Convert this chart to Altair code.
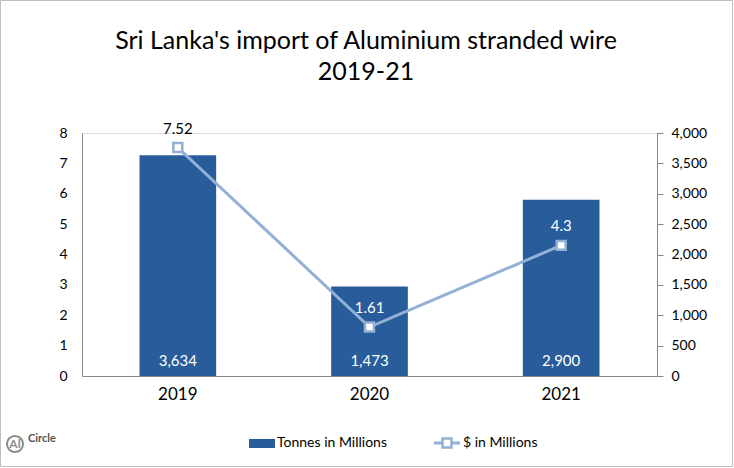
import altair as alt
import pandas as pd

years = ["2019", "2020", "2021"]
tonnes = [3634, 1473, 2900]
dollars = [7.52, 1.61, 4.3]
dollar_label_colors = ["#000000", "#FFFFFF", "#FFFFFF"]
title_lines = ["Sri Lanka's import of Aluminium stranded wire", "2019-21"]

BAR = "#285C9A"
LINE = "#93B0D5"
FONT = "Lato"

df = pd.DataFrame({
    "year": years,
    "tonnes": tonnes,
    "dollars": dollars,
    "dcol": dollar_label_colors,
    "zero": [0, 0, 0],
})

W, H = 575, 243
PL, PT = 82, 133

xscale = alt.Scale(paddingInner=0.6, paddingOuter=0.3)
xaxis = alt.Axis(title=None, labelAngle=0, labelFontSize=17, labelFont=FONT,
                 labelColor="#000000", ticks=False, domainColor="#868686",
                 labelPadding=10)

def X():
    return alt.X("year:N", sort=years, scale=xscale, axis=xaxis)

rscale = alt.Scale(domain=[0, 4000])
raxis = alt.Axis(title=None, orient="right", values=list(range(0, 4001, 500)),
                 labelExpr="format(datum.value, ',')", grid=False, tickSize=6,
                 tickColor="#868686", domainColor="#868686", labelFontSize=14,
                 labelFont=FONT, labelColor="#000000", labelPadding=8)

lscale = alt.Scale(domain=[0, 8])
laxis = alt.Axis(title=None, orient="left", values=list(range(0, 9)), format="d",
                 grid=False, ticks=False, domainColor="#868686",
                 labelFontSize=14, labelFont=FONT, labelColor="#000000",
                 labelPadding=15)

bars = alt.Chart(df).mark_bar(color=BAR).encode(
    x=X(), y=alt.Y("tonnes:Q", scale=rscale, axis=raxis))
bar_text = alt.Chart(df).mark_text(color="#FFFFFF", fontSize=15, font=FONT, dy=-15,
                                   baseline="middle").encode(
    x=X(),
    y=alt.Y("zero:Q", scale=rscale, axis=raxis),
    text=alt.Text("tonnes:Q", format=","),
)
bar_layer = alt.layer(bars, bar_text)

line = alt.Chart(df).mark_line(color=LINE, strokeWidth=3).encode(
    x=X(), y=alt.Y("dollars:Q", scale=lscale, axis=laxis))
pts = alt.Chart(df).mark_point(shape="square", filled=True, fill="#FFFFFF",
                               stroke=LINE, strokeWidth=2.5, size=80, opacity=1).encode(
    x=X(), y=alt.Y("dollars:Q", scale=lscale, axis=laxis))
line_text = alt.Chart(df).mark_text(fontSize=15, font=FONT, dy=-19, baseline="middle").encode(
    x=X(), y=alt.Y("dollars:Q", scale=lscale, axis=laxis),
    text=alt.Text("dollars:Q"),
    color=alt.Color("dcol:N", scale=None),
)
line_layer = alt.layer(line, pts, line_text)

one = pd.DataFrame({"a": [0]})
# title, legend and decorations (pixel positions relative to plot area)
t1 = alt.Chart(one).mark_text(fontSize=25, font=FONT, color="#000000",
                              baseline="middle", align="center").encode(
    x=alt.value(366 - PL), y=alt.value(41 - PT), text=alt.value(title_lines[0]))
t2 = alt.Chart(one).mark_text(fontSize=25, font=FONT, color="#000000",
                              baseline="middle", align="center").encode(
    x=alt.value(366 - PL), y=alt.value(72 - PT), text=alt.value(title_lines[1]))
leg_bar = alt.Chart(one).mark_rect(color=BAR).encode(
    x=alt.value(249 - PL), x2=alt.value(275 - PL),
    y=alt.value(439 - PT), y2=alt.value(448 - PT))
leg_bar_t = alt.Chart(one).mark_text(align="left", baseline="middle", fontSize=14,
                                     font=FONT, color="#000000").encode(
    x=alt.value(277 - PL), y=alt.value(443 - PT), text=alt.value("Tonnes in Millions"))
leg_line = alt.Chart(one).mark_rule(color=LINE, strokeWidth=3).encode(
    x=alt.value(434 - PL), x2=alt.value(460 - PL), y=alt.value(443 - PT))
leg_pt = alt.Chart(one).mark_point(shape="square", filled=True, fill="#FFFFFF",
                                   stroke=LINE, strokeWidth=2.5, size=80, opacity=1).encode(
    x=alt.value(447 - PL), y=alt.value(443 - PT))
leg_line_t = alt.Chart(one).mark_text(align="left", baseline="middle", fontSize=14,
                                      font=FONT, color="#000000").encode(
    x=alt.value(463 - PL), y=alt.value(443 - PT), text=alt.value("$ in Millions"))
border = alt.Chart(one).mark_rect(fill=None, stroke="#BFBFBF", strokeWidth=1).encode(
    x=alt.value(0.5 - PL), x2=alt.value(732.5 - PL),
    y=alt.value(0.5 - PT), y2=alt.value(466.5 - PT))
logo_c = alt.Chart(one).mark_point(shape="circle", size=260, stroke="#8C8C8C",
                                   strokeWidth=2, filled=False, opacity=1).encode(
    x=alt.value(15 - PL), y=alt.value(444 - PT))
logo_al = alt.Chart(one).mark_text(fontSize=12, font=FONT, fontWeight="bold",
                                   color="#8C8C8C", baseline="middle").encode(
    x=alt.value(15 - PL), y=alt.value(444 - PT), text=alt.value("Al"))
logo_t = alt.Chart(one).mark_text(fontSize=11, font=FONT, fontWeight="bold",
                                  color="#555555", align="left", baseline="middle").encode(
    x=alt.value(28 - PL), y=alt.value(439 - PT), text=alt.value("Circle"))

deco = alt.layer(t1, t2, leg_bar, leg_bar_t, leg_line, leg_pt, leg_line_t, border,
                 logo_c, logo_al, logo_t)

chart = alt.layer(bar_layer, line_layer, deco).resolve_scale(y="independent").properties(
    width=W, height=H,
    autosize=alt.AutoSizeParams(type="none"),
    padding={"left": PL, "top": PT, "right": 734 - PL - W, "bottom": 468 - PT - H},
).configure_view(stroke=None).configure(background="#FFFFFF")

chart.save("out.html", embed_options={"renderer": "svg", "actions": False})
